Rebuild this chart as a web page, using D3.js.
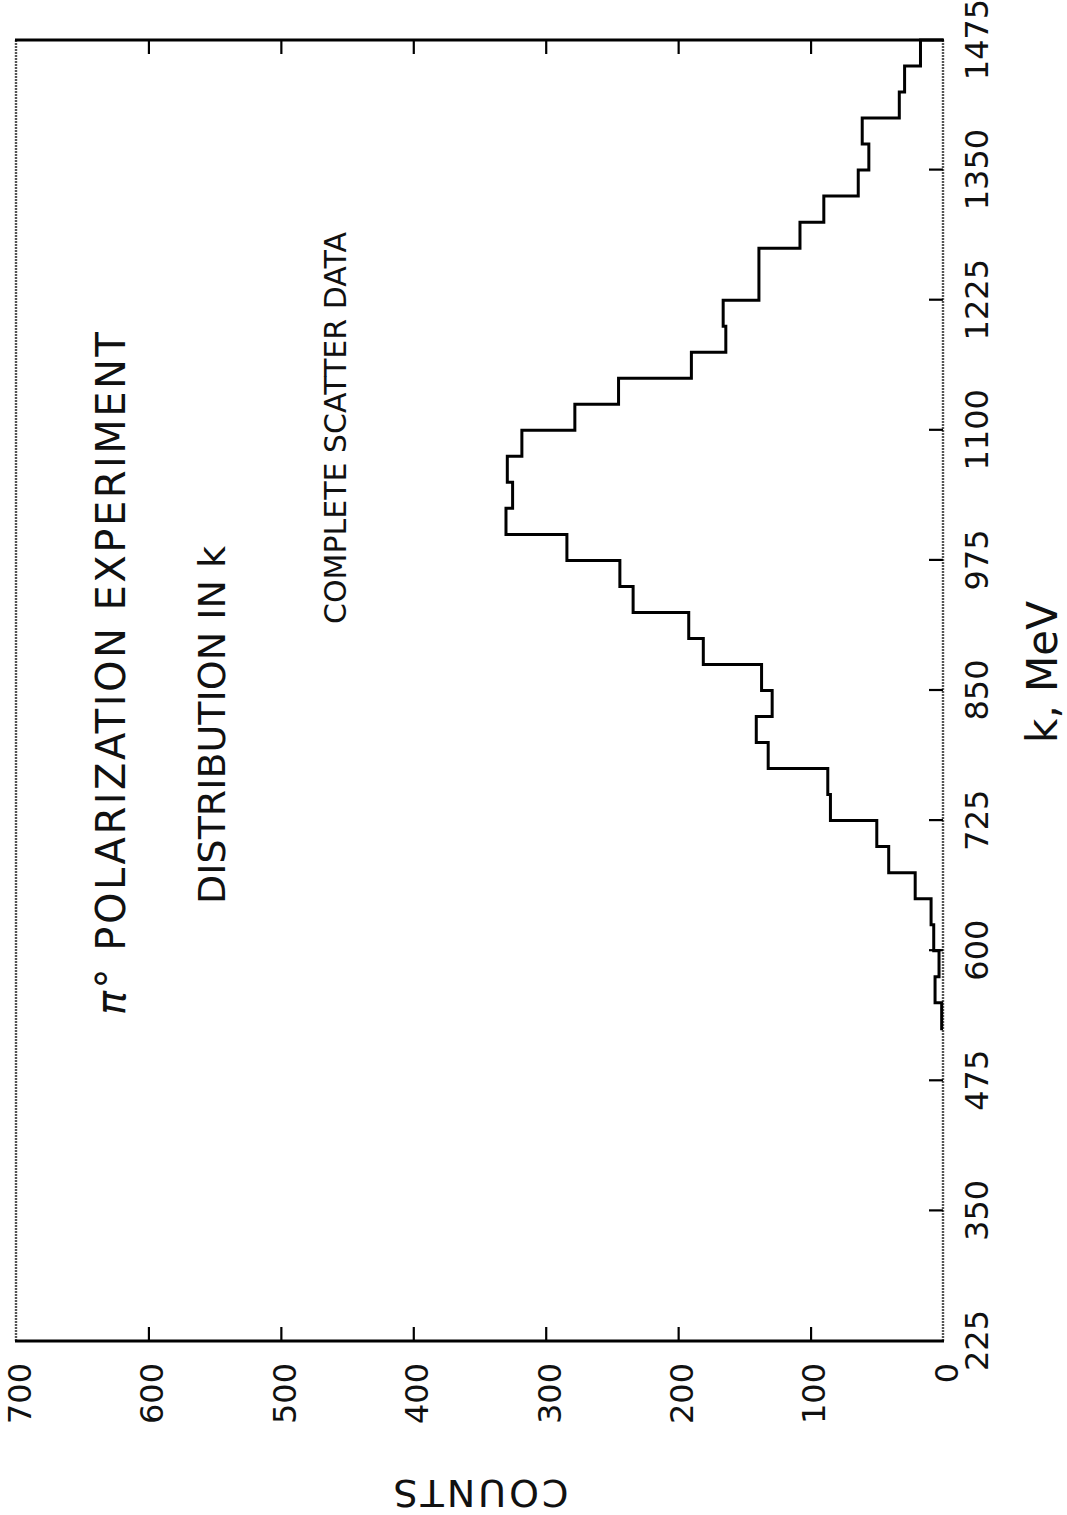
<!DOCTYPE html>
<html>
<head>
<meta charset="utf-8">
<script src="https://cdn.jsdelivr.net/npm/d3@7"></script>
<style>
  html, body { margin: 0; padding: 0; background: #fff; }
  svg { display: block; }
  text { font-family: "DejaVu Sans", "Liberation Sans", sans-serif; fill: #111; }
</style>
</head>
<body>
<svg id="chart" width="1067" height="1515"></svg>
<script>
// Lower edge of each 25 MeV bin in photon energy k (MeV)
const binStarts = [525, 550, 575, 600, 625, 650, 675, 700, 725, 750,
                   775, 800, 825, 850, 875, 900, 925, 950, 975, 1000,
                   1025, 1050, 1075, 1100, 1125, 1150, 1175, 1200, 1225, 1250,
                   1275, 1300, 1325, 1350, 1375, 1400, 1425, 1450];
// Events counted in each bin
const counts = [1, 6, 3, 7, 9, 21, 41, 50, 85, 87,
                132, 141, 129, 137, 181, 192, 234, 244, 284, 330,
                325, 329, 318, 278, 245, 190, 164, 166, 139, 139,
                108, 90, 64, 56, 61, 33, 29, 17];
const binWidth = 25;

const kTicks = [225, 350, 475, 600, 725, 850, 975, 1100, 1225, 1350, 1475];
const countTicks = [0, 100, 200, 300, 400, 500, 600, 700];

const svg = d3.select("#chart");
const W = 1067, H = 1515;

// The figure is laid out in its own frame (k along, counts up) and then
// turned a quarter turn counter-clockwise on the page.
const g = svg.append("g").attr("transform", `translate(0,${H}) rotate(-90)`);

const x = d3.scaleLinear().domain([225, 1475]).range([174, 1475]);
const y = d3.scaleLinear().domain([0, 700]).range([943, 16]);

// frame: energy edges are fine grey rules, count edges heavy black
g.append("line")
  .attr("x1", x(225)).attr("x2", x(1475)).attr("y1", y(0)).attr("y2", y(0))
  .attr("stroke", "#555").attr("stroke-width", 2.4).attr("stroke-dasharray", "2 1");
g.append("line")
  .attr("x1", x(225)).attr("x2", x(1475)).attr("y1", y(700)).attr("y2", y(700))
  .attr("stroke", "#555").attr("stroke-width", 2.4).attr("stroke-dasharray", "2 1");
g.append("line")
  .attr("x1", x(225)).attr("x2", x(225)).attr("y1", y(0) + 1).attr("y2", y(700) - 1)
  .attr("stroke", "#000").attr("stroke-width", 3.2);
g.append("line")
  .attr("x1", x(1475)).attr("x2", x(1475)).attr("y1", y(0) + 1).attr("y2", y(700) - 1)
  .attr("stroke", "#000").attr("stroke-width", 3.2);

const tickLen = 14;
const fontTick = 32;

// counts axis (left) with labels
const yAxis = g.append("g")
  .attr("transform", `translate(${x(225)},0)`)
  .call(d3.axisLeft(y).tickValues(countTicks).tickSize(-tickLen).tickPadding(22)
        .tickFormat(d3.format("d")));
yAxis.select(".domain").remove();
yAxis.selectAll(".tick line").attr("stroke", "#000").attr("stroke-width", 2.2)
  .filter(d => d === 0 || d === 700).remove();
yAxis.selectAll(".tick text").attr("font-size", fontTick).attr("font-family", "DejaVu Sans")
  .attr("fill", "#111").attr("dy", "0.45em");

// counts ticks on the opposite edge
const yAxisR = g.append("g")
  .attr("transform", `translate(${x(1475)},0)`)
  .call(d3.axisRight(y).tickValues(countTicks.slice(1, -1)).tickSize(-tickLen).tickFormat(""));
yAxisR.select(".domain").remove();
yAxisR.selectAll(".tick line").attr("stroke", "#000").attr("stroke-width", 2.2);

// energy axis
const xAxis = g.append("g")
  .attr("transform", `translate(0,${y(0)})`)
  .call(d3.axisBottom(x).tickValues(kTicks).tickSize(-tickLen).tickPadding(22)
        .tickFormat(d3.format("d")));
xAxis.select(".domain").remove();
xAxis.selectAll(".tick line").attr("stroke", "#000").attr("stroke-width", 2.2)
  .filter(d => d === 225 || d === 1475).remove();
xAxis.selectAll(".tick text").attr("font-size", fontTick).attr("font-family", "DejaVu Sans")
  .attr("fill", "#111");

// histogram outline
const pts = [[binStarts[0], 0]];
binStarts.forEach((k, i) => pts.push([k, counts[i]]));
const lastK = binStarts[binStarts.length - 1] + binWidth;
pts.push([lastK, counts[counts.length - 1]]);
pts.push([lastK, 0]);

const step = d3.line()
  .x(d => x(d[0]))
  .y(d => y(d[1]))
  .curve(d3.curveStepAfter);

g.append("path")
  .attr("d", step(pts))
  .attr("fill", "none")
  .attr("stroke", "#000")
  .attr("stroke-width", 3)
  .attr("stroke-linejoin", "miter");

// titles
const title1 = g.append("text")
  .attr("x", 500).attr("y", 125)
  .attr("font-size", 40)
  .attr("letter-spacing", 2.5);
title1.append("tspan").attr("font-style", "italic").text("π");
title1.append("tspan").text("° POLARIZATION EXPERIMENT");

g.append("text")
  .attr("x", 790).attr("y", 225)
  .attr("text-anchor", "middle")
  .attr("font-size", 38)
  .text("DISTRIBUTION IN k");

g.append("text")
  .attr("x", 1087).attr("y", 346)
  .attr("text-anchor", "middle")
  .attr("font-size", 30)
  .text("COMPLETE SCATTER DATA");

// axis titles
g.append("text")
  .attr("x", 843).attr("y", 1057)
  .attr("text-anchor", "middle")
  .attr("font-size", 42)
  .text("k, MeV");

g.append("text")
  .attr("transform", `translate(35,${(y(0) + y(700)) / 2}) rotate(-90)`)
  .attr("text-anchor", "middle")
  .attr("font-size", 38)
  .attr("letter-spacing", 3)
  .text("COUNTS");
</script>
</body>
</html>
